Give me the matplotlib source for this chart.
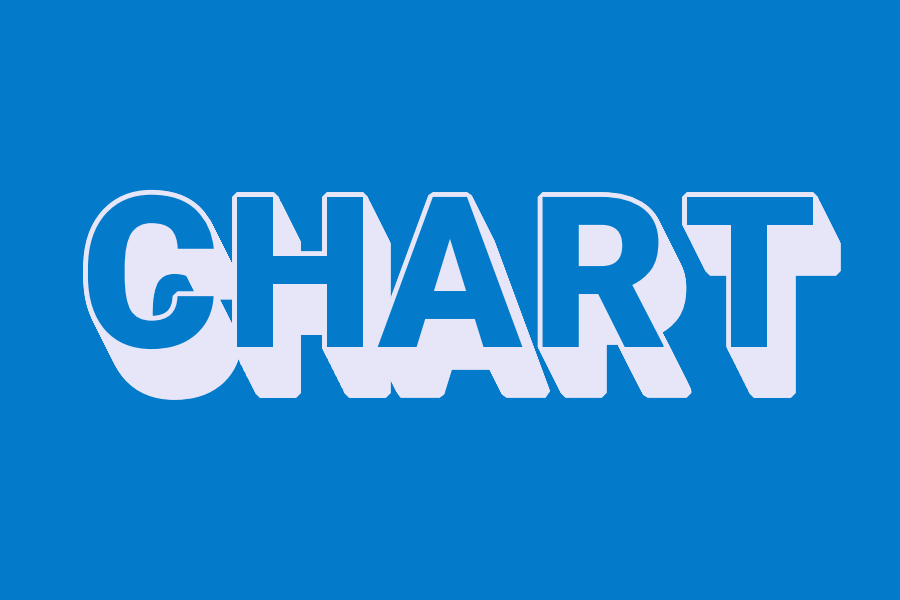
import matplotlib
matplotlib.use("Agg")
import matplotlib.pyplot as plt
import matplotlib.patheffects as pe

# the picture is just a word, drawn as an extruded block-letter logo
word = "CHART"
bg_color = "#037bca"
ink_color = "#e6e6f8"

fig = plt.figure(figsize=(9, 6), dpi=100, facecolor=bg_color)

# extrusion goes down-right, about 23 px right and 46 px down
n_steps = 100
dx_pt, dy_pt = 16.6, -33.1
shadow = [pe.SimplePatchShadow(offset=(dx_pt * k / n_steps, dy_pt * k / n_steps),
                               shadow_rgbFace=ink_color, alpha=1.0,
                               linewidth=7, foreground=ink_color,
                               joinstyle="bevel")
          for k in range(n_steps, 0, -1)]
effects = shadow + [pe.withStroke(linewidth=7, foreground=ink_color,
                                  joinstyle="bevel")]

x0, step = 150, 150  # letter centres in pixels
for i, ch in enumerate(word):
    fig.text((x0 + i * step) / 900, 253 / 600, ch,
             ha="center", va="baseline",
             fontsize=152, fontweight="heavy",
             family=["Roboto", "DejaVu Sans"],
             color=bg_color, path_effects=effects)

fig.savefig("out.png", dpi=100, facecolor=bg_color)
